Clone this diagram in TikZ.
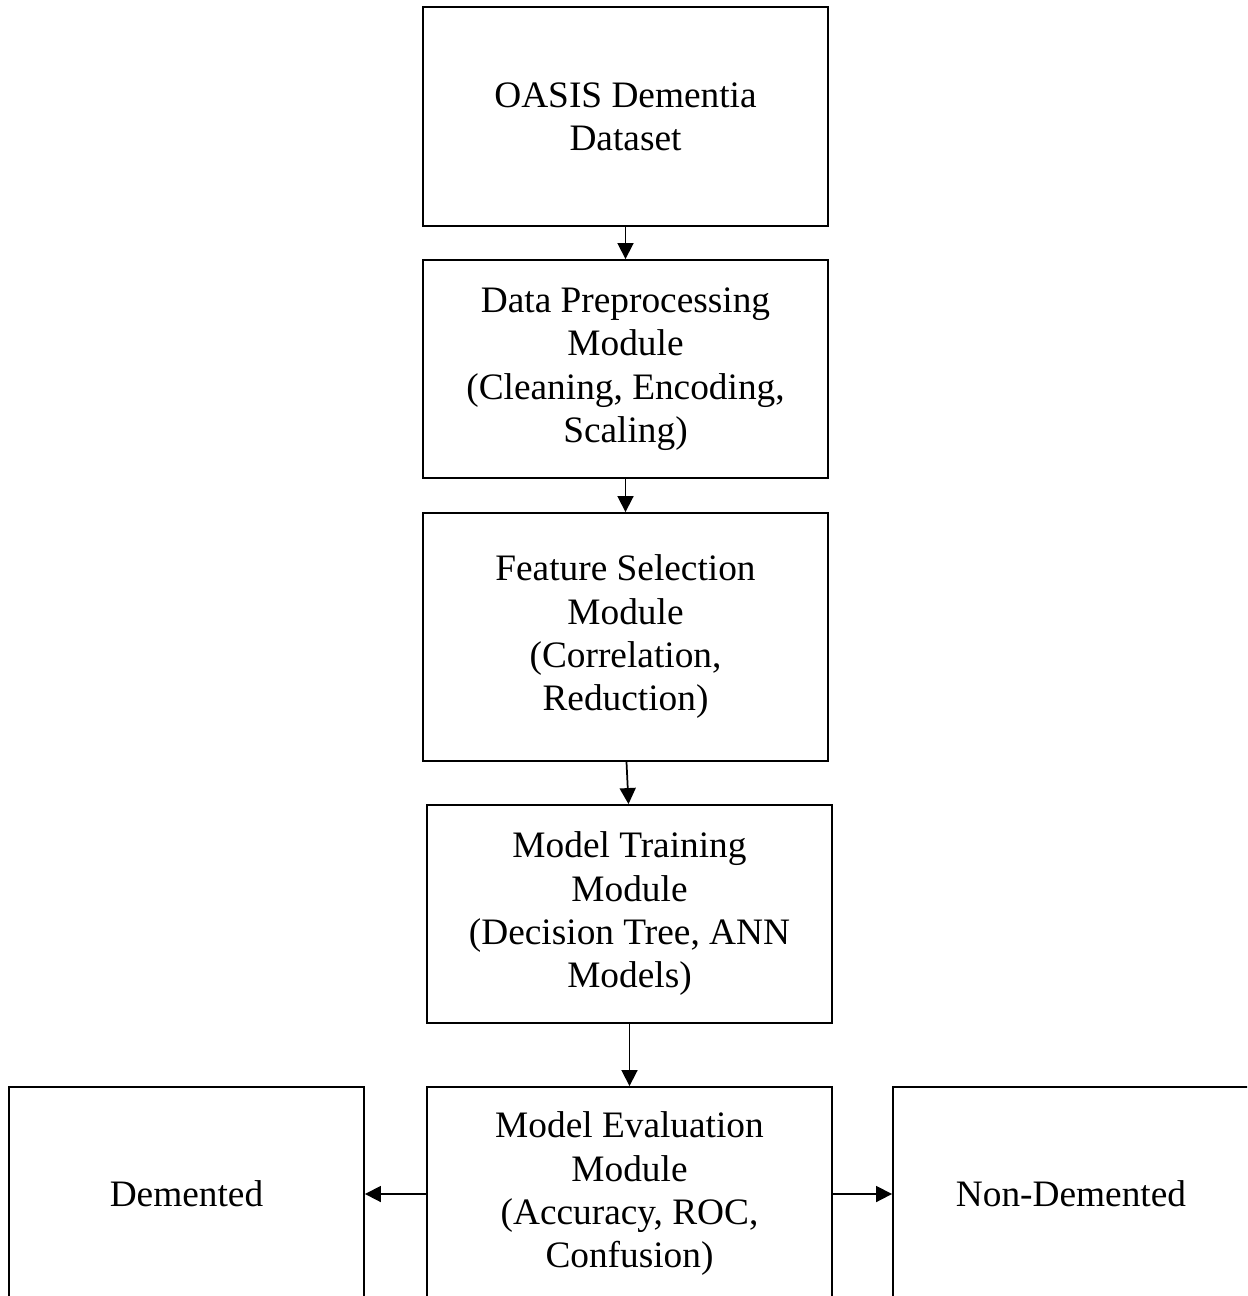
\documentclass[tikz,border=0pt]{standalone}
\usepackage{fontspec}
\setmainfont{Liberation Serif}
\usetikzlibrary{arrows.meta}
\begin{document}
\begin{tikzpicture}[x=0.75pt,y=-0.75pt,
  box/.style={draw,line width=1.4pt,align=center,inner sep=0pt,font=\fontsize{28}{32.5}\selectfont},
  conn/.style={line width=1.3pt,-{Triangle[length=12pt,width=12pt]}}]
\useasboundingbox (0,0) rectangle (1247,1296);
\clip (0,0) rectangle (1247,1296);
\node[box,minimum width=303.75pt,minimum height=164.25pt] (b1) at (625.5,116.5) {OASIS Dementia\\Dataset};
\node[box,minimum width=303.75pt,minimum height=163.5pt] (b2) at (625.5,369) {Data Preprocessing\\Module\\(Cleaning, Encoding,\\Scaling)};
\node[box,minimum width=303.75pt,minimum height=186pt] (b3) at (625.5,637) {Feature Selection\\Module\\(Correlation,\\Reduction)};
\node[box,minimum width=303.75pt,minimum height=163.5pt] (b4) at (629.5,914) {Model Training\\Module\\(Decision Tree, ANN\\Models)};
\node[box,minimum width=303.75pt,minimum height=160.5pt] (b5) at (629.5,1194) {Model Evaluation\\Module\\(Accuracy, ROC,\\Confusion)};
\node[box,minimum width=266.25pt,minimum height=160.5pt] (dem) at (186.5,1194) {Demented};
\node[box,minimum width=267pt,minimum height=160.5pt] (non) at (1071,1194) {Non-Demented};
\draw[conn] (b1.south) -- (b2.north);
\draw[conn] (b2.south) -- (b3.north);
\draw[conn] ([xshift=0.75pt]b3.south) -- ([xshift=-0.75pt]b4.north);
\draw[conn] (b4.south) -- (b5.north);
\draw[conn] (b5.west) -- (dem.east);
\draw[conn] (b5.east) -- (non.west);
\end{tikzpicture}
\end{document}
